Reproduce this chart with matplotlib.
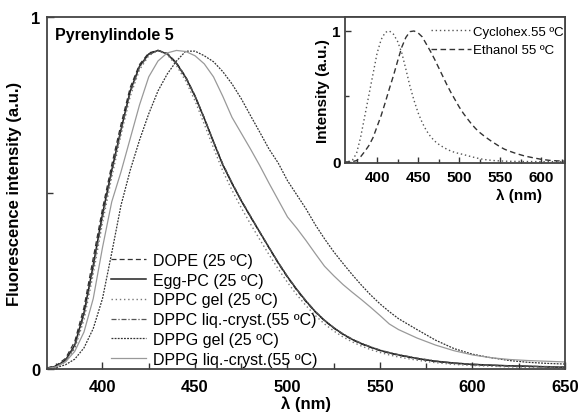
import matplotlib
matplotlib.use("Agg")
import matplotlib.pyplot as plt
from matplotlib.ticker import MultipleLocator

plt.rcParams['font.family'] = ['Liberation Sans', 'DejaVu Sans']

# Emission wavelengths (nm) for the membrane spectra
wl = [370, 375, 380, 385, 390, 395, 400, 405, 410, 415, 420, 425, 430, 435,
      440, 445, 450, 455, 460, 465, 470, 475, 480, 485, 490, 495, 500, 505,
      510, 515, 520, 525, 530, 535, 540, 545, 550, 555, 560, 570, 580, 590,
      600, 610, 620, 630, 640, 650]

dope = [0.003, 0.010, 0.030, 0.078, 0.175, 0.315, 0.455, 0.580, 0.695, 0.800,
        0.865, 0.898, 0.905, 0.897, 0.870, 0.830, 0.776, 0.713, 0.646, 0.582,
        0.528, 0.478, 0.432, 0.388, 0.344, 0.300, 0.260, 0.224, 0.191, 0.162,
        0.137, 0.116, 0.098, 0.083, 0.071, 0.061, 0.052, 0.045, 0.039, 0.029,
        0.021, 0.016, 0.012, 0.010, 0.008, 0.007, 0.006, 0.005]

egg_pc = [0.002, 0.008, 0.025, 0.068, 0.160, 0.295, 0.440, 0.565, 0.680, 0.790,
          0.860, 0.895, 0.905, 0.895, 0.868, 0.828, 0.775, 0.712, 0.645, 0.580,
          0.527, 0.478, 0.433, 0.389, 0.345, 0.302, 0.262, 0.226, 0.193, 0.163,
          0.138, 0.117, 0.099, 0.084, 0.072, 0.062, 0.053, 0.046, 0.040, 0.030,
          0.022, 0.017, 0.013, 0.011, 0.009, 0.008, 0.006, 0.005]

dppc_gel = [0.001, 0.006, 0.020, 0.058, 0.140, 0.270, 0.415, 0.545, 0.665, 0.775,
            0.850, 0.890, 0.905, 0.893, 0.862, 0.818, 0.762, 0.696, 0.628, 0.563,
            0.508, 0.458, 0.412, 0.368, 0.325, 0.284, 0.246, 0.211, 0.180, 0.152,
            0.128, 0.108, 0.091, 0.077, 0.065, 0.055, 0.047, 0.040, 0.034, 0.025,
            0.018, 0.013, 0.010, 0.008, 0.006, 0.005, 0.004, 0.003]

dppc_lc = [0.002, 0.007, 0.023, 0.063, 0.152, 0.285, 0.430, 0.558, 0.675, 0.785,
           0.857, 0.893, 0.905, 0.896, 0.869, 0.830, 0.777, 0.714, 0.647, 0.583,
           0.530, 0.480, 0.435, 0.390, 0.346, 0.303, 0.263, 0.227, 0.194, 0.164,
           0.139, 0.118, 0.100, 0.085, 0.073, 0.063, 0.054, 0.047, 0.041, 0.031,
           0.023, 0.017, 0.014, 0.011, 0.009, 0.008, 0.007, 0.006]

dppg_gel = [0.001, 0.004, 0.012, 0.028, 0.060, 0.115, 0.200, 0.330, 0.465, 0.565,
            0.650, 0.725, 0.790, 0.838, 0.875, 0.903, 0.903, 0.890, 0.873, 0.845,
            0.810, 0.768, 0.720, 0.673, 0.625, 0.585, 0.535, 0.495, 0.455, 0.410,
            0.370, 0.333, 0.300, 0.268, 0.238, 0.210, 0.185, 0.163, 0.143, 0.112,
            0.082, 0.058, 0.042, 0.032, 0.024, 0.019, 0.016, 0.014]

dppg_lc = [0.001, 0.006, 0.020, 0.050, 0.105, 0.200, 0.345, 0.475, 0.560, 0.655,
           0.750, 0.830, 0.875, 0.898, 0.905, 0.902, 0.890, 0.867, 0.830, 0.775,
           0.715, 0.670, 0.625, 0.578, 0.528, 0.480, 0.432, 0.400, 0.365, 0.328,
           0.292, 0.265, 0.240, 0.218, 0.197, 0.175, 0.152, 0.128, 0.112, 0.088,
           0.068, 0.052, 0.040, 0.032, 0.027, 0.024, 0.022, 0.020]

# Reference spectra in solvents (inset)
wl_sol = [360, 365, 370, 375, 380, 385, 390, 395, 400, 405, 410, 415, 420, 425,
          430, 435, 440, 445, 450, 455, 460, 465, 470, 475, 480, 485, 490, 495,
          500, 505, 510, 515, 520, 525, 530, 535, 540, 545, 550, 555, 560, 570,
          580, 590, 600, 610, 620, 630]

cyclohex = [0.000, 0.003, 0.015, 0.065, 0.190, 0.350, 0.510, 0.670, 0.830, 0.935,
            0.990, 1.000, 0.975, 0.920, 0.835, 0.710, 0.580, 0.470, 0.375, 0.300,
            0.240, 0.195, 0.160, 0.135, 0.115, 0.097, 0.083, 0.072, 0.064, 0.057,
            0.048, 0.040, 0.032, 0.025, 0.019, 0.015, 0.012, 0.009, 0.008, 0.006,
            0.005, 0.004, 0.003, 0.003, 0.002, 0.002, 0.002, 0.002]

ethanol = [0.000, 0.000, 0.003, 0.010, 0.040, 0.080, 0.125, 0.185, 0.270, 0.355,
           0.455, 0.560, 0.660, 0.770, 0.875, 0.950, 0.995, 1.000, 0.985, 0.955,
           0.900, 0.845, 0.785, 0.720, 0.655, 0.590, 0.530, 0.475, 0.420, 0.372,
           0.330, 0.290, 0.255, 0.225, 0.200, 0.177, 0.155, 0.135, 0.115, 0.098,
           0.085, 0.063, 0.045, 0.032, 0.020, 0.012, 0.008, 0.006]

main_xticks = [400, 450, 500, 550, 600, 650]
inset_xticks = [400, 450, 500, 550, 600]

fig = plt.figure(figsize=(5.78, 4.14), dpi=100)
ax = fig.add_axes([0.0813, 0.1063, 0.8962, 0.8502])

series = [
    (dope, "DOPE (25 ºC)", dict(color="#333333", lw=0.9, ls=(0, (4, 2.5)))),
    (egg_pc, "Egg-PC (25 ºC)", dict(color="#222222", lw=1.1, ls="-")),
    (dppc_gel, "DPPC gel (25 ºC)", dict(color="#777777", lw=1.0, ls=(0, (1, 2)))),
    (dppc_lc, "DPPC liq.-cryst.(55 ºC)", dict(color="#555555", lw=0.9, ls=(0, (4, 1.5, 1, 1.5)))),
    (dppg_gel, "DPPG gel (25 ºC)", dict(color="#333333", lw=0.9, ls=(0, (1.5, 1)))),
    (dppg_lc, "DPPG liq.-cryst.(55 ºC)", dict(color="#999999", lw=0.9, ls="-")),
]
for y, label, style in series:
    ax.plot(wl, y, label=label, **style)

ax.set_xlim(370, 650)
ax.set_ylim(0, 1)
ax.set_xticks(main_xticks)
ax.set_xticklabels([str(t) for t in main_xticks])
ax.xaxis.set_minor_locator(MultipleLocator(25))
ax.set_yticks([0, 1])
ax.set_yticklabels(["0", "1"])
ax.set_yticks([0.5], minor=True)
ax.tick_params(which="both", direction="in", color="#333333", width=1.0)
ax.tick_params(which="major", length=5, labelsize=12, pad=5)
ax.tick_params(axis="x", which="major", pad=7)
ax.tick_params(which="minor", length=4)
for lab in ax.get_xticklabels() + ax.get_yticklabels():
    lab.set_fontweight("bold")
for sp in ax.spines.values():
    sp.set_color("#444444")
    sp.set_linewidth(1.3)

ax.set_xlabel("λ (nm)", fontsize=12, fontweight="bold", labelpad=1)
ax.set_ylabel("Fluorescence intensity (a.u.)", fontsize=12, fontweight="bold", labelpad=6)
ax.text(0.015, 0.949, "Pyrenylindole 5", transform=ax.transAxes, fontsize=11.5,
        fontweight="bold", va="center", ha="left")

ax.legend(loc="upper left", bbox_to_anchor=(0.124, 0.33), frameon=False,
          fontsize=11.5, handlelength=2.2, handletextpad=0.4, labelspacing=0.3,
          borderpad=0, borderaxespad=0)

# Inset: solvent spectra
ins = fig.add_axes([0.597, 0.6039, 0.3806, 0.3527])
ins.plot(wl_sol, cyclohex, color="#555555", lw=1.0, ls=(0, (1, 2)), label="Cyclohex.55 ºC")
ins.plot(wl_sol, ethanol, color="#333333", lw=1.0, ls=(0, (4, 2.5)), label="Ethanol 55 ºC")
ins.set_xlim(361, 629)
ins.set_ylim(-0.008, 1.107)
ins.set_xticks(inset_xticks)
ins.set_xticklabels([str(t) for t in inset_xticks])
ins.xaxis.set_minor_locator(MultipleLocator(25))
ins.set_yticks([0, 1])
ins.set_yticklabels(["0", "1"])
ins.set_yticks([0.5], minor=True)
ins.tick_params(which="both", direction="in", color="#333333", width=1.0)
ins.tick_params(which="major", length=4, labelsize=11, pad=3)
ins.tick_params(axis="x", which="major", pad=5)
ins.tick_params(which="minor", length=3)
for lab in ins.get_xticklabels() + ins.get_yticklabels():
    lab.set_fontweight("bold")
for sp in ins.spines.values():
    sp.set_color("#444444")
    sp.set_linewidth(1.3)
ins.set_xlabel("λ (nm)", fontsize=11, fontweight="bold", labelpad=2)
ins.xaxis.set_label_coords(0.79, -0.17)
ins.set_ylabel("Intensity (a.u.)", fontsize=11, fontweight="bold", labelpad=2)
ins.legend(loc="upper right", bbox_to_anchor=(0.995, 0.94), frameon=False,
           fontsize=9.5, handlelength=3.0, handletextpad=0.2, labelspacing=0.45,
           borderpad=0, borderaxespad=0)

fig.savefig("out.png", dpi=100)
